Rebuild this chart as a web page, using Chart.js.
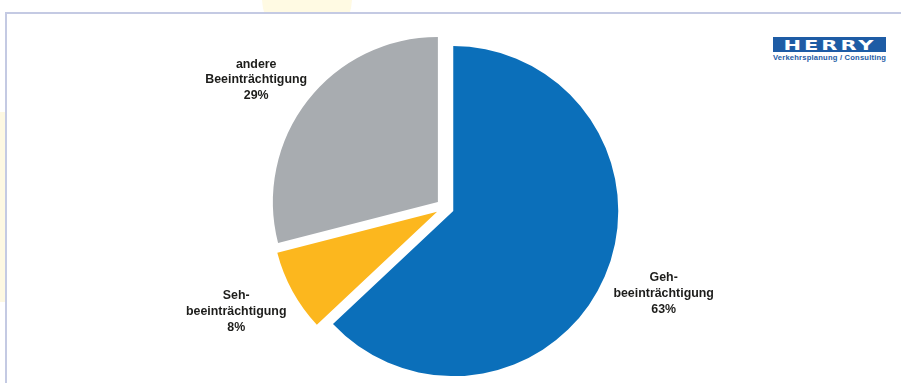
<!DOCTYPE html>
<html lang="de">
<head>
<meta charset="utf-8">
<script src="https://cdn.jsdelivr.net/npm/chart.js@4.4.1/dist/chart.umd.min.js"></script>
<style>
  html, body { margin: 0; padding: 0; background: #fff; overflow: hidden; }
  #page { position: relative; width: 901px; height: 383px; }
  .sun { position: absolute; left: 262px; top: -46px; width: 90px; height: 90px; border-radius: 50%; background: #fffae3; }
  .strip { position: absolute; left: 0; top: 112px; width: 5px; height: 190px; background: #fdf8e2; }
  .frame { position: absolute; left: 5px; top: 12px; right: -5px; bottom: -5px;
           border-top: 2px solid #c4cae3; border-left: 2px solid #c4cae3; background: #fff; }
  .logo { position: absolute; left: 773px; top: 37px; width: 113px; }
  .logo-box { height: 15px; background: #1e5ca5; color: #fff; overflow: hidden;
              font: bold 14.5px/16px "DejaVu Sans", "Liberation Sans", Arial, sans-serif; text-align: center; }
  .logo-box span { display: inline-block; transform: scaleX(1.45); letter-spacing: 2px; margin-left: 2px; }
  .logo-sub { margin-top: 1px; color: #1e5ca5; font: bold 7.6px/9px "Liberation Sans", Arial, sans-serif;
              text-align: center; letter-spacing: 0.2px; white-space: nowrap; }
  #chart-wrap { position: absolute; left: 0; top: 0; width: 901px; height: 383px; }
</style>
</head>
<body>
<div id="page">
  <div class="sun"></div>
  <div class="strip"></div>
  <div class="frame"></div>
  <div class="logo">
    <div class="logo-box"><span>HERRY</span></div>
    <div class="logo-sub">Verkehrsplanung / Consulting</div>
  </div>
  <div id="chart-wrap"><canvas id="pie-chart"></canvas></div>
</div>

<script>
// chart data
const categories = [["Geh-", "beeinträchtigung"], ["Seh-", "beeinträchtigung"], ["andere", "Beeinträchtigung"]];
const shares = [63, 8, 29];
const sliceColors = ["#0b6fba", "#fcb71e", "#a8acb0"];

const EXPLODE = 9;      // how far every slice is pulled out
const LABEL_GAP = 14;
const LABEL_SIZE = 12.4;
const LINE_H = 15.7;

// pull every slice out along its middle angle
const explodePlugin = {
    id: "explode",
    afterDatasetsUpdate(chart){
        const meta = chart.getDatasetMeta(0);
        const area = chart.chartArea;
        const cx = (area.left + area.right) / 2;
        const cy = (area.top + area.bottom) / 2;
        meta.data.forEach(arc => {
            const mid = (arc.startAngle + arc.endAngle) / 2;
            arc.x = cx + Math.cos(mid) * EXPLODE;
            arc.y = cy + Math.sin(mid) * EXPLODE;
        });
    }
};

// labels outside the slices
const labelPlugin = {
    id: "sliceLabels",
    afterDatasetsDraw(chart){
        const ctx = chart.ctx;
        const meta = chart.getDatasetMeta(0);
        ctx.save();
        ctx.font = `bold ${LABEL_SIZE}px "Liberation Sans", Arial, sans-serif`;
        ctx.fillStyle = "#1d1d1b";
        ctx.textAlign = "center";
        ctx.textBaseline = "middle";
        meta.data.forEach((arc, i) => {
            const lines = [...categories[i], `${shares[i]}%`];
            const mid = (arc.startAngle + arc.endAngle) / 2;
            const dx = Math.cos(mid);
            const dy = Math.sin(mid);
            const w = Math.max(...lines.map(l => ctx.measureText(l).width));
            const h = lines.length * LINE_H;
            const r = arc.outerRadius + LABEL_GAP;
            const lx = arc.x + dx * r + dx * w / 2;
            const ly = arc.y + dy * r + dy * h / 2 + 2;
            lines.forEach((line, k) => {
                ctx.fillText(line, lx, ly + (k - (lines.length - 1) / 2) * LINE_H);
            });
        });
        ctx.restore();
    }
};

const pieCtx = document.getElementById("pie-chart");

new Chart(pieCtx, {
    type: "pie",
    data: {
        labels: categories.map(c => c.join("")),
        datasets: [
            {
                data: shares,
                backgroundColor: sliceColors,
                borderWidth: 0
            }
        ]
    },
    options: {
        responsive: true,
        maintainAspectRatio: false,
        animation: false,
        radius: 165,
        layout: {
            padding: { left: 0, right: 11, top: 32, bottom: 0 }
        },
        plugins: {
            legend: { display: false },
            tooltip: { enabled: false }
        }
    },
    plugins: [explodePlugin, labelPlugin]
});
</script>
</body>
</html>
